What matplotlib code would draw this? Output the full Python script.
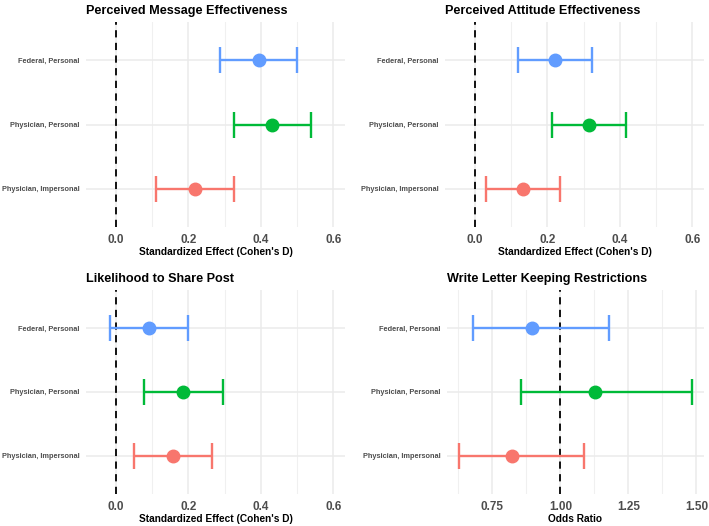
import matplotlib
matplotlib.use("Agg")
import matplotlib.pyplot as plt
import numpy as np

plt.rcParams['font.family'] = ['Liberation Sans', 'DejaVu Sans']

categories = ["Federal, Personal", "Physician, Personal", "Physician, Impersonal"]
colors = ["#619CFF", "#00BA38", "#F8766D"]

titles = ["Perceived Message Effectiveness", "Perceived Attitude Effectiveness",
          "Likelihood to Share Post", "Write Letter Keeping Restrictions"]
xlabels = ["Standardized Effect (Cohen's D)"] * 3 + ["Odds Ratio"]

# estimates, lower, upper per panel (order follows categories)
est_pme = [0.394, 0.432, 0.218]
lo_pme = [0.288, 0.326, 0.112]
hi_pme = [0.500, 0.538, 0.325]

est_pae = [0.221, 0.315, 0.132]
lo_pae = [0.119, 0.213, 0.031]
hi_pae = [0.323, 0.418, 0.236]

est_share = [0.092, 0.186, 0.157]
lo_share = [-0.017, 0.078, 0.050]
hi_share = [0.200, 0.295, 0.266]

est_letter = [0.894, 1.128, 0.823]
lo_letter = [0.679, 0.855, 0.626]
hi_letter = [1.178, 1.485, 1.085]

panels = [
    (est_pme, lo_pme, hi_pme),
    (est_pae, lo_pae, hi_pae),
    (est_share, lo_share, hi_share),
    (est_letter, lo_letter, hi_letter),
]
ref_lines = [0, 0, 0, 1]
xlims = [(-0.0825, 0.6325)] * 3 + [(0.583, 1.528)]
major_ticks = [[0.0, 0.2, 0.4, 0.6]] * 3 + [[0.75, 1.00, 1.25, 1.50]]
minor_ticks = [[-0.1, 0.1, 0.3, 0.5]] * 3 + [[0.625, 0.875, 1.125, 1.375]]
tick_fmt = ["{:.1f}"] * 3 + ["{:.2f}"]

W, H = 709, 526
fig = plt.figure(figsize=(W / 100, H / 100), dpi=100)

# axes rects in pixels (left, top, right, bottom)
rects = [(86, 22, 345, 227), (445, 22, 704, 227),
         (86, 290, 345, 494), (447, 290, 704, 494)]

for i, (est, lo, hi) in enumerate(panels):
    l, t, r, b = rects[i]
    ax = fig.add_axes([l / W, 1 - b / H, (r - l) / W, (b - t) / H])
    ypos = np.arange(len(categories))
    ax.set_xlim(*xlims[i])
    ax.set_ylim(len(categories) - 0.4, -0.6)
    # grid
    for v in major_ticks[i]:
        ax.axvline(v, color="#EBEBEB", lw=1.1, zorder=0)
    for v in minor_ticks[i]:
        if xlims[i][0] < v < xlims[i][1]:
            ax.axvline(v, color="#F0F0F0", lw=0.8, zorder=0)
    for y in ypos:
        ax.axhline(y, color="#EBEBEB", lw=1.1, zorder=0)
    ax.axvline(ref_lines[i], color="black", lw=1.3, ls=(0, (4, 3)), zorder=1)
    for j in range(len(categories)):
        ax.errorbar(est[j], ypos[j], xerr=[[est[j] - lo[j]], [hi[j] - est[j]]],
                    fmt='o', color=colors[j], ms=9, elinewidth=1.7,
                    capsize=9.3, capthick=1.7, zorder=3)
    ax.set_xticks(major_ticks[i])
    ax.set_xticklabels([tick_fmt[i].format(v) for v in major_ticks[i]],
                       fontsize=8.5, fontweight='bold', color="#4D4D4D")
    ax.set_yticks(ypos)
    ax.set_yticklabels(categories, fontsize=5.3, fontweight='bold', color="#4D4D4D")
    ax.tick_params(length=0, axis='x', pad=5)
    ax.tick_params(length=0, axis='y', pad=4.5)
    for s in ax.spines.values():
        s.set_visible(False)
    ax.set_xlabel(xlabels[i], fontsize=7.3, fontweight='bold', labelpad=1)
    ax.set_title(titles[i], fontsize=9.1, fontweight='bold', loc='left', pad=6)

fig.savefig("out.png", dpi=100)
